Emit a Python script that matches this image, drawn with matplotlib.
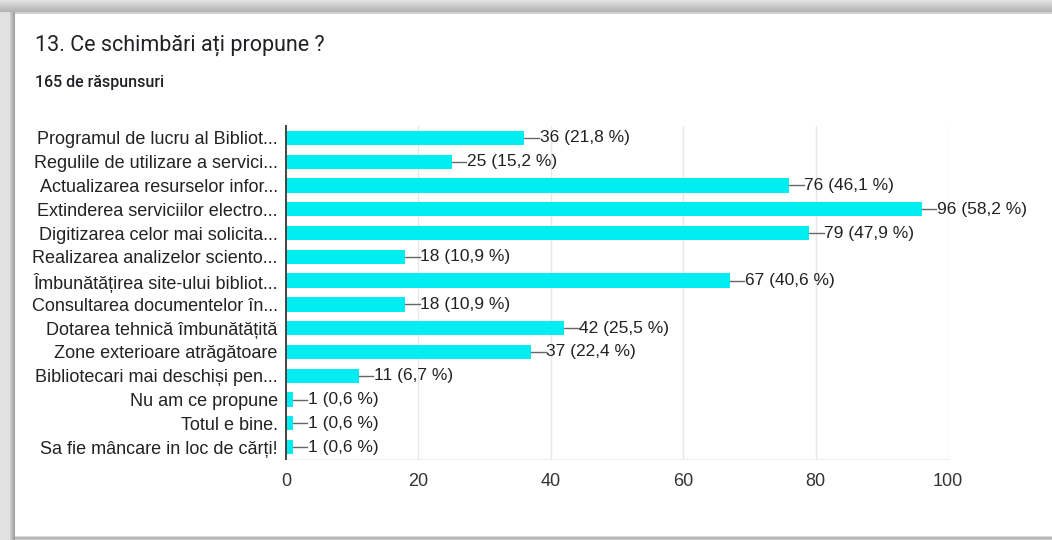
import numpy as np
import matplotlib
matplotlib.use("Agg")
import matplotlib.pyplot as plt

# responses to question 13 (165 respondents, multiple choice)
TOTAL = 165
categories = [
    "Programul de lucru al Bibliot...",
    "Regulile de utilizare a servici...",
    "Actualizarea resurselor infor...",
    "Extinderea serviciilor electro...",
    "Digitizarea celor mai solicita...",
    "Realizarea analizelor sciento...",
    "Îmbunătățirea site-ului bibliot...",
    "Consultarea documentelor în...",
    "Dotarea tehnică îmbunătățită",
    "Zone exterioare atrăgătoare",
    "Bibliotecari mai deschiși pen...",
    "Nu am ce propune",
    "Totul e bine.",
    "Sa fie mâncare in loc de cărți!",
]
counts = [36, 25, 76, 96, 79, 18, 67, 18, 42, 37, 11, 1, 1, 1]
xticks = [0, 20, 40, 60, 80, 100]

W, H = 1052, 540
fig = plt.figure(figsize=(W / 100, H / 100), dpi=100)

# card shadow around the white panel
bg = np.ones((H, W))
top = np.linspace(0.88, 0.70, 12)
bg[:12, :] = top[:, None]
bg[12:14, :] = 0.82
left = np.concatenate([np.full(10, 0.88), np.linspace(0.80, 0.62, 5)])
bg[12:, :15] = left[None, :]
bg[536:, 15:] = np.array([0.85, 0.72, 0.72, 0.80])[:, None]
bg_ax = fig.add_axes([0, 0, 1, 1], zorder=-1)
bg_ax.imshow(bg, cmap="gray", vmin=0, vmax=1, aspect="auto", interpolation="bilinear")
bg_ax.axis("off")

fig.text(35 / W, 1 - 45 / H, "13. Ce schimbări ați propune ?", family="Roboto",
         fontsize=15.5, color="#202124", va="center")
fig.text(35 / W, 1 - 82 / H, "165 de răspunsuri", family="Roboto", fontweight="medium",
         fontsize=11.5, color="#202124", va="center")

ax = fig.add_axes([286 / W, 1 - 459 / H, 662 / W, 333 / H])
y = np.arange(len(categories))
ax.barh(y, counts, height=0.6, color="#00eef2", zorder=2)
ax.set_ylim(len(categories) - 0.5, -0.5)
ax.set_xlim(0, 100)
ax.set_yticks(y)
ax.set_yticklabels(categories, family="Liberation Sans", fontsize=13, color="#222222")
ax.set_xticks(xticks)
ax.set_xticklabels([str(t) for t in xticks], family="Liberation Sans", fontsize=13, color="#333333")
ax.tick_params(axis="y", length=0, pad=6)
ax.tick_params(axis="x", length=0, pad=10)
ax.grid(axis="x", color="#e6e6e6", lw=1, zorder=0)
for side in ("top", "right"):
    ax.spines[side].set_visible(False)
ax.spines["bottom"].set_color("#eeeeee")
ax.spines["left"].set_color("#444444")
ax.spines["left"].set_linewidth(1.4)
ax.spines["left"].set_zorder(3)

for yi, c in zip(y, counts):
    pct = f"{c / TOTAL * 100:.1f}".replace(".", ",")
    ax.plot([c, c + 2.2], [yi, yi], color="#666666", lw=1, zorder=3)
    ax.text(c + 2.3, yi, f"{c} ({pct} %)", family="Liberation Sans", fontsize=12.5,
            color="#222222", va="center", ha="left")

fig.savefig("out.png", dpi=100)
